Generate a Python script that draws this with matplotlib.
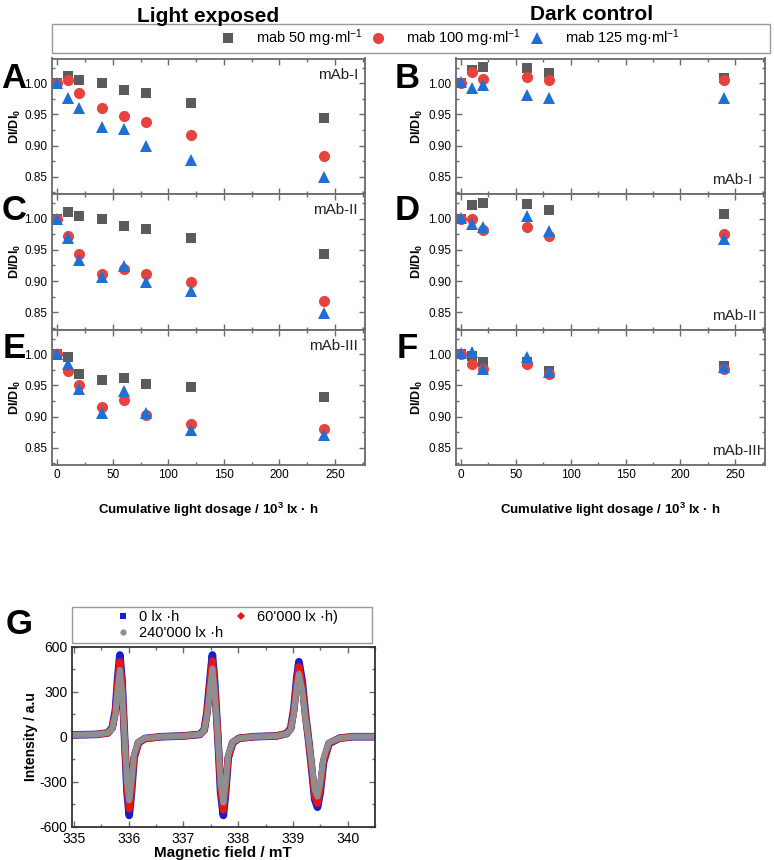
import matplotlib
matplotlib.use('Agg')
import matplotlib.pyplot as plt
from matplotlib.lines import Line2D
from matplotlib.patches import Rectangle
from matplotlib.ticker import MultipleLocator

plt.rcParams['font.family'] = ['Liberation Sans', 'DejaVu Sans']
plt.rcParams['axes.unicode_minus'] = False
plt.rcParams['mathtext.fontset'] = 'custom'
plt.rcParams['mathtext.rm'] = 'Liberation Sans'
plt.rcParams['mathtext.bf'] = 'Liberation Sans:bold'
plt.rcParams['mathtext.it'] = 'Liberation Sans:italic'

# ---------------- data ----------------
dose_light = [0, 10, 20, 40, 60, 80, 120, 240]
dose_dark = [0, 10, 20, 60, 80, 240]

series_labels = ['mab 50 mg·ml$^{-1}$', 'mab 100 mg·ml$^{-1}$', 'mab 125 mg·ml$^{-1}$']

A_50 = [1.000, 1.012, 1.005, 1.000, 0.989, 0.984, 0.969, 0.944]
A_100 = [1.000, 1.006, 0.985, 0.960, 0.947, 0.938, 0.917, 0.883]
A_125 = [1.000, 0.977, 0.961, 0.930, 0.926, 0.900, 0.876, 0.850]
B_50 = [1.000, 1.022, 1.026, 1.024, 1.016, 1.009]
B_100 = [1.000, 1.018, 1.007, 1.011, 1.006, 1.005]
B_125 = [1.002, 0.992, 0.997, 0.981, 0.977, 0.977]
C_50 = [1.000, 1.011, 1.005, 1.000, 0.989, 0.984, 0.969, 0.944]
C_100 = [1.000, 0.972, 0.944, 0.912, 0.920, 0.911, 0.898, 0.868]
C_125 = [1.000, 0.969, 0.934, 0.906, 0.924, 0.899, 0.884, 0.849]
D_50 = [1.000, 1.022, 1.026, 1.024, 1.014, 1.008]
D_100 = [1.000, 0.999, 0.982, 0.987, 0.973, 0.975]
D_125 = [1.002, 0.991, 0.987, 1.004, 0.980, 0.968]
E_50 = [1.000, 0.996, 0.969, 0.959, 0.962, 0.953, 0.947, 0.931]
E_100 = [1.000, 0.974, 0.950, 0.916, 0.927, 0.903, 0.888, 0.880]
E_125 = [1.000, 0.984, 0.945, 0.906, 0.941, 0.906, 0.879, 0.870]
F_50 = [1.000, 0.997, 0.987, 0.987, 0.974, 0.981]
F_100 = [1.000, 0.984, 0.977, 0.985, 0.968, 0.977]
F_125 = [1.002, 1.004, 0.976, 0.995, 0.971, 0.980]

panel_names = ['mAb-I', 'mAb-I', 'mAb-II', 'mAb-II', 'mAb-III', 'mAb-III']
panel_letters = ['A', 'B', 'C', 'D', 'E', 'F']

# EPR spectra (panel G)
epr_labels = ["0 lx ·h", "60'000 lx ·h)", "240'000 lx ·h"]
epr_field = [334.96, 335.40, 335.62, 335.70, 335.76, 335.80, 335.84, 335.88, 335.925, 335.97,
             336.01, 336.05, 336.10, 336.18, 336.30, 336.60,
             337.00, 337.30, 337.38, 337.43, 337.49, 337.53, 337.57, 337.63, 337.68, 337.73,
             337.77, 337.82, 337.90, 338.02, 338.30,
             338.70, 338.88, 338.96, 339.02, 339.07, 339.11, 339.17, 339.23, 339.28, 339.34,
             339.40, 339.45, 339.50, 339.56, 339.66, 339.85, 340.10, 340.50]
epr_0 = [12, 15, 25, 60, 180, 390, 545, 370, 0, -360, -525, -380, -140, -40, -12, 0,
         5, 15, 45, 160, 400, 545, 370, 0, -370, -525, -380, -140, -40, -10, 0,
         5, 20, 55, 190, 390, 500, 370, 150, 0, -200, -420, -470, -370, -170, -45, -10, 0, 0]
epr_60k = [12, 15, 25, 58, 170, 360, 500, 345, 0, -335, -482, -360, -135, -40, -12, 0,
           5, 15, 43, 150, 370, 508, 345, 0, -345, -490, -360, -135, -40, -10, 0,
           5, 20, 52, 178, 365, 468, 345, 140, 0, -190, -400, -445, -350, -162, -43, -10, 0, 0]
epr_240k = [12, 15, 25, 52, 155, 320, 445, 305, 0, -300, -425, -310, -115, -35, -10, 0,
            5, 15, 40, 135, 330, 455, 310, 0, -310, -440, -320, -120, -35, -10, 0,
            5, 18, 45, 160, 330, 420, 310, 125, 0, -170, -355, -400, -310, -140, -38, -10, 0, 0]

# ---------------- style ----------------
C_GRAY = '#5b5b5b'
C_RED = '#e8423f'
C_BLUE = '#1f6fd4'
SPINE = '#6a6a6a'
styles = [dict(marker='s', color=C_GRAY, ms=7),
          dict(marker='o', color=C_RED, ms=8),
          dict(marker='^', color=C_BLUE, ms=8.5)]

W, H = 774, 860
fig = plt.figure(figsize=(W / 100, H / 100), dpi=100)

lx, lw_ = 51.7 / W, 313.3 / W
rx, rw_ = 455.5 / W, 309.5 / W
ph = 135.5 / H
bottoms = [1 - 194 / H, 1 - 329.5 / H, 1 - 465 / H]

data_sets = [
    (dose_light, [A_50, A_100, A_125]),
    (dose_dark, [B_50, B_100, B_125]),
    (dose_light, [C_50, C_100, C_125]),
    (dose_dark, [D_50, D_100, D_125]),
    (dose_light, [E_50, E_100, E_125]),
    (dose_dark, [F_50, F_100, F_125]),
]

for i, (xs, ys_list) in enumerate(data_sets):
    row, col = i // 2, i % 2
    left = lx if col == 0 else rx
    width = lw_ if col == 0 else rw_
    ax = fig.add_axes([left, bottoms[row], width, ph])
    for ys, st in zip(ys_list, styles):
        ax.plot(xs, ys, linestyle='none', marker=st['marker'], color=st['color'],
                ms=st['ms'], markeredgewidth=0)
    ax.set_xlim(-5, 277)
    ax.set_ylim(0.822, 1.04)
    ax.xaxis.set_major_locator(MultipleLocator(50))
    ax.xaxis.set_minor_locator(MultipleLocator(25))
    ax.yaxis.set_major_locator(MultipleLocator(0.05))
    ax.yaxis.set_minor_locator(MultipleLocator(0.025))
    ax.yaxis.set_major_formatter(matplotlib.ticker.FormatStrFormatter('%.2f'))
    ax.tick_params(which='both', direction='in', top=True, right=True, color=SPINE,
                   labelsize=8.5, pad=3)
    ax.tick_params(which='major', length=4, width=1)
    ax.tick_params(which='minor', length=2.5, width=1)
    if row < 2:
        ax.tick_params(labelbottom=False)
    for s in ax.spines.values():
        s.set_color(SPINE)
        s.set_linewidth(1.3)
    xoff = -0.117 if col == 0 else -0.123
    ax.text(xoff, 0.5, r'DI/DI$_\mathbf{0}$', transform=ax.transAxes, rotation=90,
            ha='center', va='center', fontsize=9, fontweight='bold')
    if col == 0:
        ax.text(0.978, 0.93, panel_names[i], transform=ax.transAxes, ha='right', va='top',
                fontsize=11, color='#222222')
    else:
        ax.text(0.829, 0.05, panel_names[i], transform=ax.transAxes, ha='left', va='bottom',
                fontsize=11, color='#222222')
    letter_x = 14 if col == 0 else 407
    letter_y = [79, 211, 348][row]
    fig.text(letter_x / W, 1 - letter_y / H, panel_letters[i], ha='center', va='center',
             fontsize=25, fontweight='bold')
    if row == 2:
        ax.set_xlabel('Cumulative light dosage / 10$^\\mathbf{3}$ lx · h', fontsize=9.5,
                      fontweight='bold', labelpad=14)

# titles
fig.text(208 / W, 1 - 16 / H, 'Light exposed', ha='center', va='center', fontsize=15,
         fontweight='bold')
fig.text(592 / W, 1 - 14 / H, 'Dark control', ha='center', va='center', fontsize=15,
         fontweight='bold')

# top legend box + legend
fig.patches.append(Rectangle((52 / W, 1 - 53 / H), 718 / W, 29 / H, transform=fig.transFigure,
                             fill=False, edgecolor='#9a9a9a', linewidth=1))
handles = [Line2D([], [], linestyle='none', marker=st['marker'], color=st['color'],
                  ms=st['ms'], markeredgewidth=0) for st in styles]
fig.legend(handles, series_labels, loc='center', bbox_to_anchor=(450 / W, 1 - 38 / H),
           ncol=3, frameon=False, fontsize=10.5, handlelength=1.0, handletextpad=1.4,
           columnspacing=0.6)

# ---------------- panel G ----------------
axg = fig.add_axes([71.7 / W, 1 - 826.7 / H, 303.3 / W, 180 / H])
axg.plot(epr_field, epr_0, color='#1a1ad0', lw=5.5, solid_joinstyle='round', solid_capstyle='round')
axg.plot(epr_field, epr_60k, color='#e81414', lw=5.0, solid_joinstyle='round', solid_capstyle='round')
axg.plot(epr_field, epr_240k, color='#8e8e8e', lw=4.3, solid_joinstyle='round', solid_capstyle='round')
axg.set_xlim(334.96, 340.5)
axg.set_ylim(-600, 600)
axg.xaxis.set_major_locator(MultipleLocator(1))
axg.xaxis.set_minor_locator(MultipleLocator(0.5))
axg.yaxis.set_major_locator(MultipleLocator(300))
axg.yaxis.set_minor_locator(MultipleLocator(150))
axg.tick_params(which='both', direction='in', top=True, right=True, color=SPINE,
                labelsize=10)
axg.tick_params(axis='x', pad=4)
axg.tick_params(axis='y', pad=3)
axg.tick_params(which='major', length=4, width=1)
axg.tick_params(which='minor', length=2.5, width=1)
for s in axg.spines.values():
    s.set_color('#333333')
    s.set_linewidth(1.3)
axg.set_xlabel('Magnetic field / mT', fontsize=11, fontweight='bold', labelpad=0)
axg.set_ylabel('Intensity / a.u', fontsize=10, fontweight='bold', labelpad=1)
fig.text(19 / W, 1 - 625 / H, 'G', ha='center', va='center', fontsize=25, fontweight='bold')

fig.patches.append(Rectangle((71.7 / W, 1 - 643 / H), 300.3 / W, 36 / H, transform=fig.transFigure,
                             fill=False, edgecolor='#9a9a9a', linewidth=1))
g_handles = [Line2D([], [], linestyle='none', marker='s', color='#1a1ad0', ms=4.5, markeredgewidth=0),
             Line2D([], [], linestyle='none', marker='o', color='#8e8e8e', ms=4.5, markeredgewidth=0),
             Line2D([], [], linestyle='none', marker='D', color='#e81414', ms=4, markeredgewidth=0)]
g_labels = [epr_labels[0], epr_labels[2], epr_labels[1]]
fig.legend(g_handles, g_labels, loc='center', bbox_to_anchor=(227 / W, 1 - 625 / H), ncol=2,
           frameon=False, fontsize=10.5, handlelength=1.0, handletextpad=0.6,
           columnspacing=0.7, labelspacing=0.15, borderpad=0.2)

fig.savefig('out.png', dpi=100)
